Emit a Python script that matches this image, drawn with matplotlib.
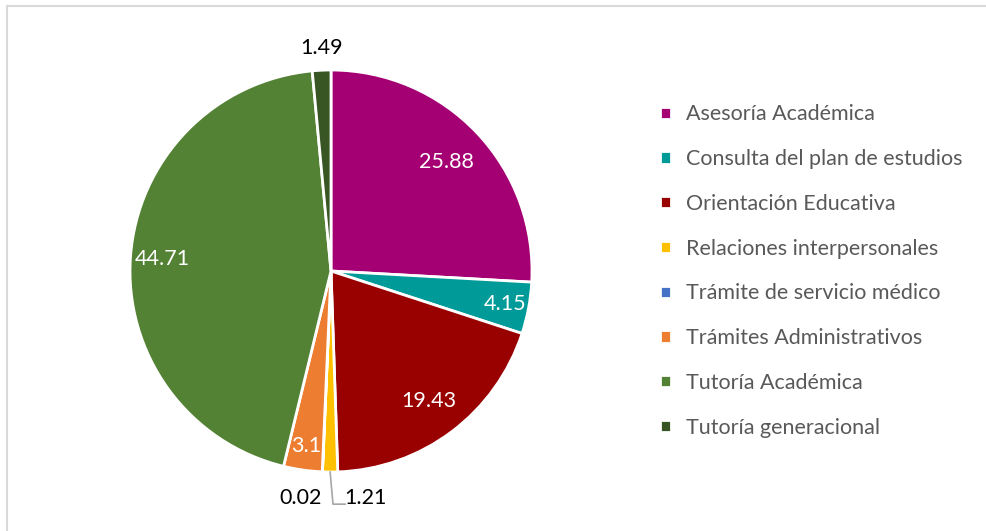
import numpy as np
import matplotlib
matplotlib.use("Agg")
import matplotlib.pyplot as plt
from matplotlib.lines import Line2D

plt.rcParams['font.family'] = ['Lato', 'DejaVu Sans']

categorias = ['Asesoría Académica', 'Consulta del plan de estudios',
              'Orientación Educativa', 'Relaciones interpersonales',
              'Trámite de servicio médico', 'Trámites Administrativos',
              'Tutoría Académica', 'Tutoría generacional']
valores = [25.88, 4.15, 19.43, 1.21, 0.02, 3.1, 44.71, 1.49]
etiquetas = ['25.88', '4.15', '19.43', '1.21', '0.02', '3.1', '44.71', '1.49']
colores = ['#A50073', '#009B98', '#990000', '#FFC000',
           '#4472C4', '#ED7D31', '#548235', '#375623']

W, H = 986, 531
fig = plt.figure(figsize=(W / 100, H / 100), dpi=100)

# marco gris (solo arriba e izquierda visibles)
fig.add_artist(Line2D([7 / W, 1], [1 - 6 / H, 1 - 6 / H], color='#D9D9D9', lw=1.5))
fig.add_artist(Line2D([7 / W, 7 / W], [0, 1 - 6 / H], color='#D9D9D9', lw=1.5))

cx, cy, r = 331, 271, 201
ax = fig.add_axes([(cx - r) / W, (H - cy - r) / H, 2 * r / W, 2 * r / H])
wedges, _ = ax.pie(valores, colors=colores, startangle=90, counterclock=False,
                   radius=1, wedgeprops=dict(edgecolor='white', linewidth=2))
ax.set_xlim(-1, 1)
ax.set_ylim(-1, 1)
ax.set_aspect('equal')
ax.axis('off')

fs = 15.5

# etiquetas dentro
dist = {0: 0.79, 1: 0.88, 2: 0.81, 5: 0.88, 6: 0.84}
for i, w in enumerate(wedges):
    ang = np.deg2rad((w.theta1 + w.theta2) / 2)
    if i in dist:
        ax.text(dist[i] * np.cos(ang), dist[i] * np.sin(ang), etiquetas[i],
                color='white', fontsize=fs, ha='center', va='center')

# etiquetas fuera
ax.text(-0.045, 1.11, etiquetas[7], fontsize=fs, ha='center', va='center')
ax.text(-0.15, -1.13, etiquetas[4], fontsize=fs, ha='center', va='center')
ax.text(0.17, -1.13, etiquetas[3], fontsize=fs, ha='center', va='center')
ang = np.deg2rad((wedges[3].theta1 + wedges[3].theta2) / 2)
ax.plot([np.cos(ang), 0.01, 0.07], [np.sin(ang), -1.16, -1.16],
        color='#A6A6A6', lw=1.2, clip_on=False)

fig.legend(wedges, categorias, loc='center left',
           bbox_to_anchor=(641 / W, 1 - 271 / H), frameon=False,
           fontsize=fs, handlelength=0.5, handleheight=0.5,
           handletextpad=0.7, labelspacing=1.15, labelcolor='#595959')

fig.savefig('out.png', dpi=100)
